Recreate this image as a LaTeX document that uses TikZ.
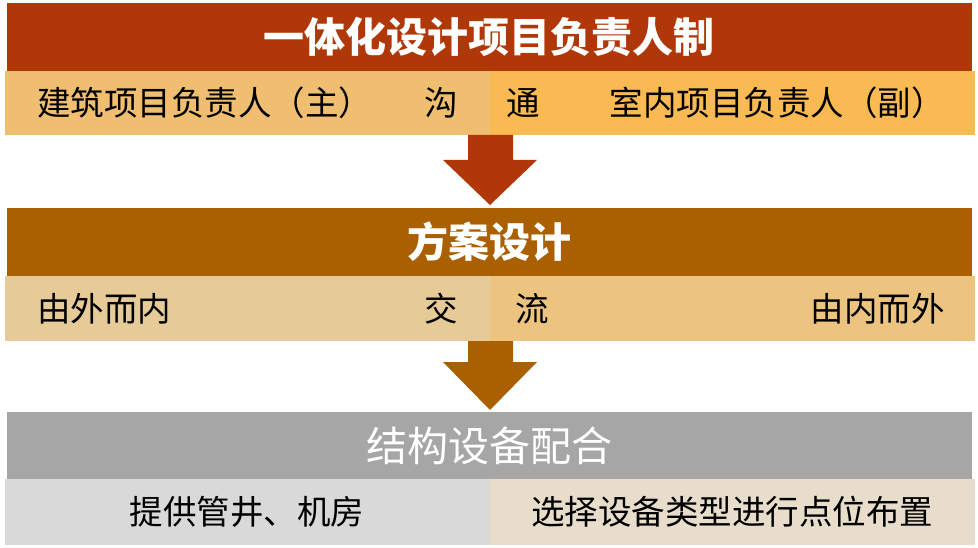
\documentclass[tikz,border=0pt]{standalone}
\usepackage{fontspec}
\newfontfamily\cjk{Noto Sans CJK SC}
\definecolor{barA}{RGB}{176,56,8}
\definecolor{barB}{RGB}{170,96,0}
\definecolor{barC}{RGB}{166,166,166}
\definecolor{subAL}{RGB}{240,190,112}
\definecolor{subAR}{RGB}{249,186,84}
\definecolor{subBL}{RGB}{230,202,152}
\definecolor{subBR}{RGB}{236,196,128}
\definecolor{subCL}{RGB}{217,217,217}
\definecolor{subCR}{RGB}{231,221,202}
\tikzset{
  ttl/.style={font=\cjk\fontsize{41}{44}\selectfont, text=white, inner sep=0pt},
  ttlb/.style={ttl, font=\cjk\bfseries\fontsize{41}{44}\selectfont},
  sub/.style={font=\cjk\fontsize{33.5}{36}\selectfont, text=black, inner sep=0pt},
}
\begin{document}
\begin{tikzpicture}[x=1pt,y=-1pt]
\useasboundingbox (0,0) rectangle (978,548);
\fill[white] (0,0) rectangle (978,548);
% bars
\fill[barA] (7,3) rectangle (972,71);
\fill[subAL] (5,71) rectangle (490,135);
\fill[subAR] (490,71) rectangle (975,135);
\fill[barB] (7,208) rectangle (972,276);
\fill[subBL] (5,276) rectangle (490,341);
\fill[subBR] (490,276) rectangle (975,341);
\fill[barC] (7,412) rectangle (972,479);
\fill[subCL] (5,479) rectangle (490,545);
\fill[subCR] (490,479) rectangle (975,545);
% arrows
\fill[barA] (468,135) -- (513,135) -- (513,160) -- (537,160) -- (490,205) -- (443,160) -- (468,160) -- cycle;
\fill[barB] (468,341) -- (513,341) -- (513,362) -- (537,362) -- (490,410) -- (443,362) -- (468,362) -- cycle;
% titles
\node[ttlb] (t1) at (489,37) {一体化设计项目负责人制};
\node[ttlb] (t2) at (489,242) {方案设计};
\node[ttl] (t3) at (489,446) {结构设备配合};
% row 1
\node[sub, anchor=west] (a1) at (37,103) {建筑项目负责人（主）};
\node[sub] (a2) at (441,103) {沟};
\node[sub] (a3) at (523,103) {通};
\node[sub, anchor=east] (a4) at (945,103) {室内项目负责人（副）};
% row 2
\node[sub, anchor=west] (b1) at (37,309) {由外而内};
\node[sub] (b2) at (441,309) {交};
\node[sub] (b3) at (532,309) {流};
\node[sub, anchor=east] (b4) at (945,309) {由内而外};
% row 3
\node[sub] (c1) at (247,512) {提供管井、机房};
\node[sub] (c2) at (732,512) {选择设备类型进行点位布置};
\end{tikzpicture}
\end{document}
